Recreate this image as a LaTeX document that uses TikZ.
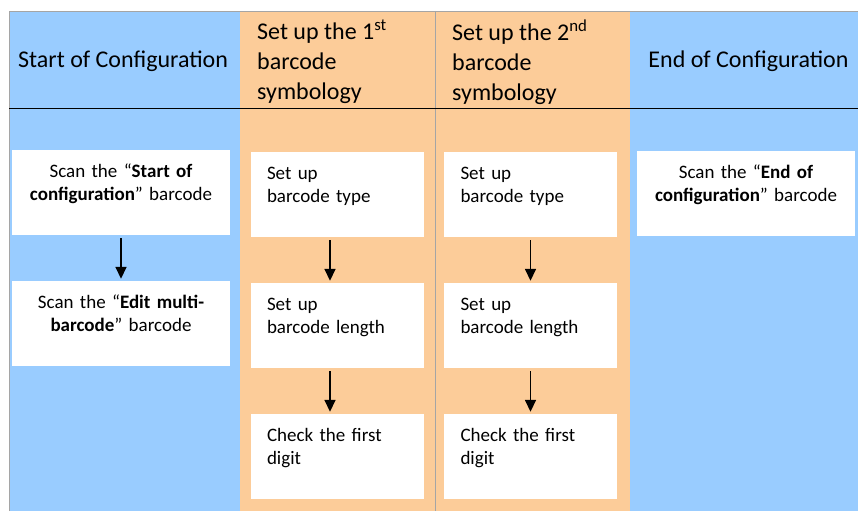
\documentclass[tikz,border=0pt]{standalone}
\usepackage{fontspec}
\setmainfont{Carlito}
\usepackage{xcolor}
\usetikzlibrary{arrows.meta, positioning}

\definecolor{laneblue}{RGB}{153,204,255}
\definecolor{laneorange}{RGB}{252,204,153}
\definecolor{lanegray}{RGB}{165,165,165}

\begin{document}
\begin{tikzpicture}[x=1pt, y=-1pt, on grid, node distance=131pt,
    stepbox/.style={fill=white, minimum width=173pt, minimum height=85pt,
      text width=140pt, align=left, font=\fontsize{19}{23}\selectfont},
    scanbox/.style={fill=white, minimum width=218pt, minimum height=85pt,
      text width=210pt, align=center, font=\fontsize{19}{23}\selectfont},
    head/.style={inner sep=0pt, font=\fontsize{24}{30}\selectfont},
    flow/.style={-{Triangle[length=12pt, width=11pt]}, line width=1.6pt,
      shorten <=3pt, shorten >=2pt}]
  \useasboundingbox[fill=white] (0,0) rectangle (858,511);

  % lanes
  \fill[laneblue]   (9,11)   rectangle (240,511);
  \fill[laneorange] (240,11) rectangle (435,511);
  \fill[laneorange] (435,11) rectangle (630,511);
  \fill[laneblue]   (630,11) rectangle (858,511);
  \draw[lanegray, line width=0.8pt] (9,511) -- (9,11) -- (858,11);
  \draw[lanegray, line width=0.8pt] (435,11) -- (435,511);
  \draw[line width=0.8pt] (9,108) -- (858,108);

  % headers
  \node[head, anchor=west]                    (h1) at (18,61)    {Start of Configuration};
  \node[head, anchor=north west, align=left] (h2) at (257,20)   {Set up the 1\textsuperscript{st}\\barcode\\symbology};
  \node[head, anchor=north west, align=left] (h3) at (452,20)   {Set up the 2\textsuperscript{nd}\\barcode\\symbology};
  \node[head]                                 (h4) at (748.5,61) {End of Configuration};

  % steps
  \node[scanbox] (c1r1) at (121,192.5)          {Scan the “\textbf{Start of}\\\textbf{configuration}” barcode\\[-10pt]\strut};
  \node[scanbox] (c1r2) [below of=c1r1]         {Scan the “\textbf{Edit multi-}\\\textbf{barcode}” barcode\\[-10pt]\strut};

  \node[stepbox] (c2r1) at (337,194.5)          {Set up\\barcode type\\[-10pt]\strut};
  \node[stepbox] (c2r2) [below of=c2r1]         {Set up\\barcode length\\[-10pt]\strut};
  \node[stepbox] (c2r3) [below of=c2r2]         {Check the first\\digit\\[-10pt]\strut};

  \node[stepbox] (c3r1) at (530.5,194.5)        {Set up\\barcode type\\[-10pt]\strut};
  \node[stepbox] (c3r2) [below of=c3r1]         {Set up\\barcode length\\[-10pt]\strut};
  \node[stepbox] (c3r3) [below of=c3r2]         {Check the first\\digit\\[-10pt]\strut};

  \node[scanbox] (c4r1) at (746,193.5)          {Scan the “\textbf{End of}\\\textbf{configuration}” barcode\\[-10pt]\strut};

  \draw[flow] (c1r1) -- (c1r2);
  \draw[flow] ([xshift=-7pt]c2r1.south) -- ([xshift=-7pt]c2r2.north);
  \draw[flow] ([xshift=-7pt]c2r2.south) -- ([xshift=-7pt]c2r3.north);
  \draw[flow] (c3r1) -- (c3r2);
  \draw[flow] (c3r2) -- (c3r3);
\end{tikzpicture}
\end{document}
